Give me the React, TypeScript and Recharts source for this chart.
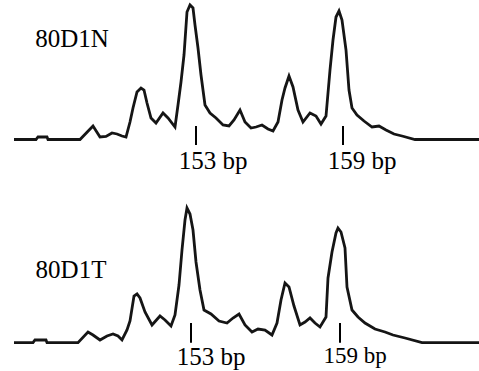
import React from 'react';
import { LineChart, Line, XAxis, YAxis, ReferenceLine, ReferenceDot } from 'recharts';

// scan positions and signal heights
const normalPos = [14, 36, 38, 47, 48, 80, 93, 100, 106, 112, 117, 122, 126, 130, 133, 137, 141, 144, 147, 151, 156, 163, 168, 175, 178, 181, 184, 187, 190, 193, 195, 198, 201, 205, 210, 216, 223, 229, 234, 240, 245, 251, 256, 262, 268, 273, 278, 282, 285, 289, 293, 298, 303, 310, 316, 321, 326, 330, 333, 336, 339, 342, 346, 349, 352, 357, 364, 372, 379, 386, 394, 402, 415, 479];
const normalSignal = [0, 0, 2.5, 2.5, 0, 0, 13.5, 2.5, 3, 6.5, 5.5, 3.5, 2.5, 17.5, 31.5, 47.5, 51.5, 49.5, 36.5, 21.5, 16.5, 26.5, 21.5, 12.5, 34.5, 57.5, 84.5, 127.5, 134.5, 131.5, 114.5, 91.5, 64.5, 34.5, 26.5, 21.5, 14.5, 13.5, 19.5, 29.5, 17.5, 11.5, 12.5, 14.5, 10.5, 8.5, 17.5, 39.5, 51.5, 63.5, 52.5, 29.5, 17.5, 26.5, 23.5, 15.5, 23.5, 69.5, 99.5, 122.5, 128.5, 119.5, 89.5, 49.5, 31.5, 24.5, 18.5, 12.5, 13.5, 9.5, 5.5, 3.5, 0, 0];

const tumorPos = [14, 33, 35, 46, 47, 78, 88, 93, 100, 107, 113, 118, 122, 127, 130, 134, 137, 140, 145, 152, 160, 165, 171, 175, 179, 182, 185, 187, 190, 193, 196, 200, 204, 211, 219, 227, 233, 239, 245, 252, 258, 265, 272, 277, 281, 285, 289, 294, 300, 305, 310, 315, 320, 326, 328, 332, 336, 338, 341, 345, 347, 352, 358, 365, 375, 385, 393, 405, 422, 479];
const tumorSignal = [0, 0, 2.7, 2.7, 0, 0, 10.7, 7.7, 2.7, 6.7, 8.7, 6.7, 2.7, 12.7, 21.7, 46.7, 48.7, 44.7, 30.7, 17.7, 26.7, 22.7, 16.7, 27.7, 57.7, 92.7, 122.7, 134.7, 128.7, 112.7, 80.7, 52.7, 32.7, 28.7, 21.7, 19.7, 24.7, 28.7, 17.7, 10.7, 13.7, 12.7, 7.7, 19.7, 42.7, 59.7, 55.7, 36.7, 17.7, 20.7, 24.7, 19.7, 15.7, 25.7, 64.7, 90.7, 109.7, 114.7, 110.7, 94.7, 55.7, 32.7, 25.7, 19.7, 13.7, 10.7, 7.7, 4.7, 0, 0];

const sizeLabels = ['153 bp', '159 bp'];
const normalMarkers = [196, 343];
const tumorMarkers = [191, 340];

const toRows = (pos: number[], sig: number[]) => pos.map((x, i) => ({ x, y: sig[i] }));

const FONT = '"Liberation Serif", "Times New Roman", Times, serif';

const Trace: React.FC<{
  name: string;
  rows: { x: number; y: number }[];
  markers: number[];
  height: number;
  yDomain: [number, number];
  tick: [number, number];
  nameAt: [number, number];
  labelAt: [number, number][];
  labelSize: number[];
}> = ({ name, rows, markers, height, yDomain, tick, nameAt, labelAt, labelSize }) => (
  <LineChart width={479} height={height} data={rows} margin={{ top: 0, right: 0, left: 0, bottom: 0 }}>
    <XAxis dataKey="x" type="number" domain={[0, 479]} hide />
    <YAxis type="number" domain={yDomain} hide allowDataOverflow />
    <Line
      dataKey="y"
      type="linear"
      stroke="#151515"
      strokeWidth={2.8}
      dot={false}
      activeDot={false}
      isAnimationActive={false}
    />
    {markers.map((m) => (
      <ReferenceLine
        key={m}
        segment={[{ x: m, y: tick[0] }, { x: m, y: tick[1] }]}
        stroke="#000"
        strokeWidth={2}
      />
    ))}
    {sizeLabels.map((s, i) => (
      <ReferenceDot
        key={s}
        x={labelAt[i][0]}
        y={labelAt[i][1]}
        r={0}
        fill="none"
        stroke="none"
        label={{ value: s, position: 'center', fill: '#000', fontSize: labelSize[i] }}
      />
    ))}
    <ReferenceDot
      x={nameAt[0]}
      y={nameAt[1]}
      r={0}
      fill="none"
      stroke="none"
      label={{ value: name, position: 'center', fill: '#000', fontSize: 25 }}
    />
  </LineChart>
);

export default function App() {
  return (
    <div
      style={{
        position: 'absolute',
        left: 0,
        top: 0,
        width: 479,
        height: 371,
        background: '#fff',
        fontFamily: FONT,
      }}
    >
      <Trace
        name="80D1N"
        rows={toRows(normalPos, normalSignal)}
        markers={normalMarkers}
        height={185}
        yDomain={[-45.5, 139.5]}
        tick={[13.5, -5.5]}
        nameAt={[72, 101]}
        labelAt={[[213, -20.5], [362, -20.5]]}
        labelSize={[25, 25]}
      />
      <Trace
        name="80D1T"
        rows={toRows(tumorPos, tumorSignal)}
        markers={tumorMarkers}
        height={186}
        yDomain={[-28.3, 157.7]}
        tick={[19.7, 0]}
        nameAt={[71, 73.2]}
        labelAt={[[211, -13.3], [355, -12.3]]}
        labelSize={[25, 23]}
      />
    </div>
  );
}
